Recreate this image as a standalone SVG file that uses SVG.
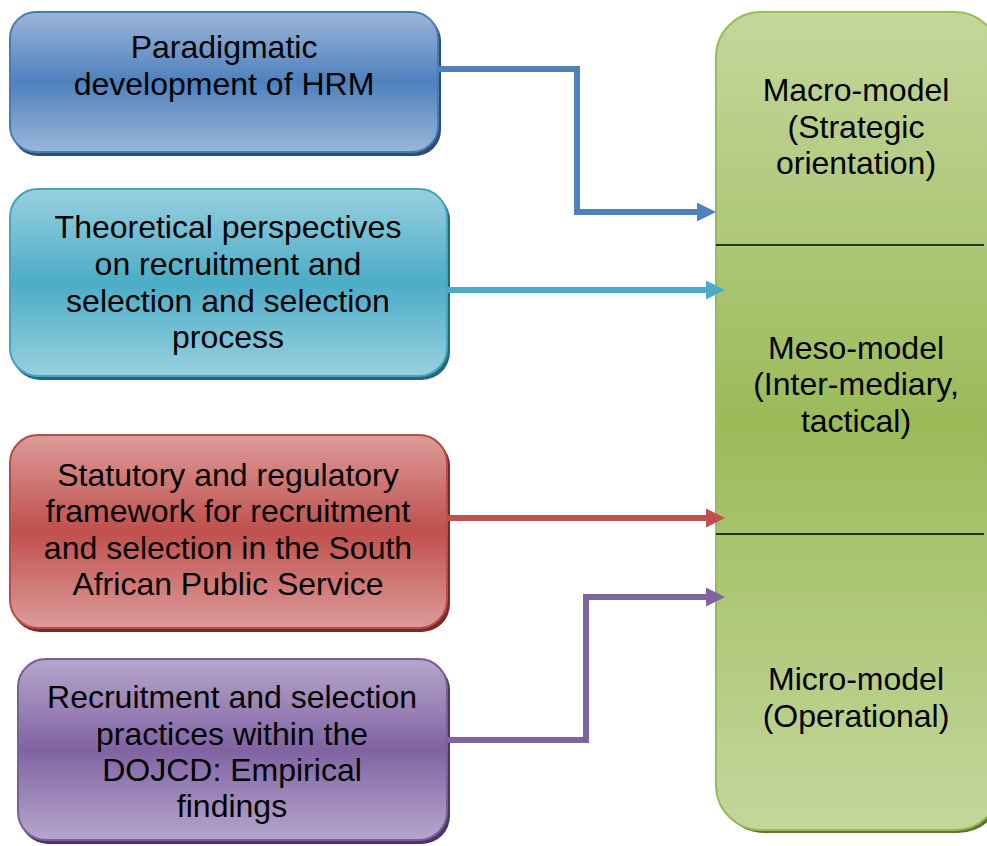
<svg xmlns="http://www.w3.org/2000/svg" width="987" height="846" viewBox="0 0 987 846">
  <defs>
    <linearGradient id="gBlue" x1="0" y1="0" x2="0" y2="1">
      <stop offset="0" stop-color="#9ab6da"/>
      <stop offset="0.5" stop-color="#4f81bd"/>
      <stop offset="1" stop-color="#9ab6da"/>
    </linearGradient>
    <linearGradient id="gCyan" x1="0" y1="0" x2="0" y2="1">
      <stop offset="0" stop-color="#98d0df"/>
      <stop offset="0.5" stop-color="#4bacc6"/>
      <stop offset="1" stop-color="#98d0df"/>
    </linearGradient>
    <linearGradient id="gRed" x1="0" y1="0" x2="0" y2="1">
      <stop offset="0" stop-color="#dc9b99"/>
      <stop offset="0.5" stop-color="#c0504d"/>
      <stop offset="1" stop-color="#dc9b99"/>
    </linearGradient>
    <linearGradient id="gPurple" x1="0" y1="0" x2="0" y2="1">
      <stop offset="0" stop-color="#b6a6cb"/>
      <stop offset="0.5" stop-color="#8064a2"/>
      <stop offset="1" stop-color="#b6a6cb"/>
    </linearGradient>
    <linearGradient id="gGreen" x1="0" y1="0" x2="0" y2="1">
      <stop offset="0" stop-color="#c4d79c"/>
      <stop offset="0.5" stop-color="#9bbb59"/>
      <stop offset="1" stop-color="#c4d79c"/>
    </linearGradient>
    <marker id="hBlue" markerUnits="userSpaceOnUse" markerWidth="19" markerHeight="19" refX="0" refY="9.5" orient="auto">
      <path d="M0,0 L19,9.5 L0,19 Z" fill="#4f81bd"/>
    </marker>
    <marker id="hCyan" markerUnits="userSpaceOnUse" markerWidth="19" markerHeight="19" refX="0" refY="9.5" orient="auto">
      <path d="M0,0 L19,9.5 L0,19 Z" fill="#4bacc6"/>
    </marker>
    <marker id="hRed" markerUnits="userSpaceOnUse" markerWidth="19" markerHeight="19" refX="0" refY="9.5" orient="auto">
      <path d="M0,0 L19,9.5 L0,19 Z" fill="#c0504d"/>
    </marker>
    <marker id="hPurple" markerUnits="userSpaceOnUse" markerWidth="19" markerHeight="19" refX="0" refY="9.5" orient="auto">
      <path d="M0,0 L19,9.5 L0,19 Z" fill="#8064a2"/>
    </marker>
  </defs>
  <style>
    text { font-family: "Liberation Sans", Arial, sans-serif; font-size: 32px; fill: #000; text-anchor: middle; }
    .conn { fill: none; stroke-width: 6; stroke-linejoin: miter; }
    .divider { stroke: #000; stroke-width: 1.6; }
  </style>

  <rect width="987" height="846" fill="#ffffff"/>

  <!-- Right-hand model column -->
  <g id="model-column">
    <rect x="719" y="15" width="284" height="818" rx="45" fill="#5d7330"/>
    <rect x="716" y="12" width="284" height="818" rx="45" fill="url(#gGreen)" stroke="#9bbb59" stroke-width="2"/>
    <line class="divider" x1="716" y1="245" x2="984" y2="245"/>
    <line class="divider" x1="716" y1="534" x2="984" y2="534"/>
    <text x="856" y="101">Macro-model</text>
    <text x="856" y="138">(Strategic</text>
    <text x="856" y="174">orientation)</text>
    <text x="856" y="359">Meso-model</text>
    <text x="856" y="395">(Inter-mediary,</text>
    <text x="856" y="432">tactical)</text>
    <text x="856" y="690">Micro-model</text>
    <text x="856" y="727">(Operational)</text>
  </g>

  <!-- Source boxes -->
  <g id="box-hrm">
    <rect x="12" y="15" width="429" height="141" rx="26" fill="#2c4d75"/>
    <rect x="10" y="12" width="428" height="140" rx="26" fill="url(#gBlue)" stroke="#4a7ab3" stroke-width="2"/>
    <text x="224" y="58">Paradigmatic</text>
    <text x="224" y="95">development of HRM</text>
  </g>

  <g id="box-theory">
    <rect x="12" y="192" width="438" height="188" rx="28" fill="#26677a"/>
    <rect x="10" y="189" width="437" height="187" rx="28" fill="url(#gCyan)" stroke="#46a4bd" stroke-width="2"/>
    <text x="228" y="238">Theoretical perspectives</text>
    <text x="228" y="275">on recruitment and</text>
    <text x="228" y="312">selection and selection</text>
    <text x="228" y="348">process</text>
  </g>

  <g id="box-statutory">
    <rect x="12" y="438" width="438" height="194" rx="28" fill="#7a2a28"/>
    <rect x="10" y="435" width="437" height="193" rx="28" fill="url(#gRed)" stroke="#b94b48" stroke-width="2"/>
    <text x="228" y="486">Statutory and regulatory</text>
    <text x="228" y="522">framework for recruitment</text>
    <text x="228" y="559">and selection in the South</text>
    <text x="228" y="595">African Public Service</text>
  </g>

  <g id="box-dojcd">
    <rect x="20" y="662" width="430" height="182" rx="28" fill="#4a3766"/>
    <rect x="18" y="659" width="429" height="181" rx="28" fill="url(#gPurple)" stroke="#7a5e9c" stroke-width="2"/>
    <text x="232" y="708">Recruitment and selection</text>
    <text x="232" y="745">practices within the</text>
    <text x="232" y="781">DOJCD: Empirical</text>
    <text x="232" y="817">findings</text>
  </g>

  <!-- Connectors -->
  <g id="connectors">
    <path class="conn" stroke="#4f81bd" d="M438,69 H577 V212 H697" marker-end="url(#hBlue)"/>
    <path class="conn" stroke="#4bacc6" d="M447,290 H706" marker-end="url(#hCyan)"/>
    <path class="conn" stroke="#c0504d" d="M447,518 H706" marker-end="url(#hRed)"/>
    <path class="conn" stroke="#8064a2" d="M447,740 H586 V597 H706" marker-end="url(#hPurple)"/>
  </g>
</svg>
